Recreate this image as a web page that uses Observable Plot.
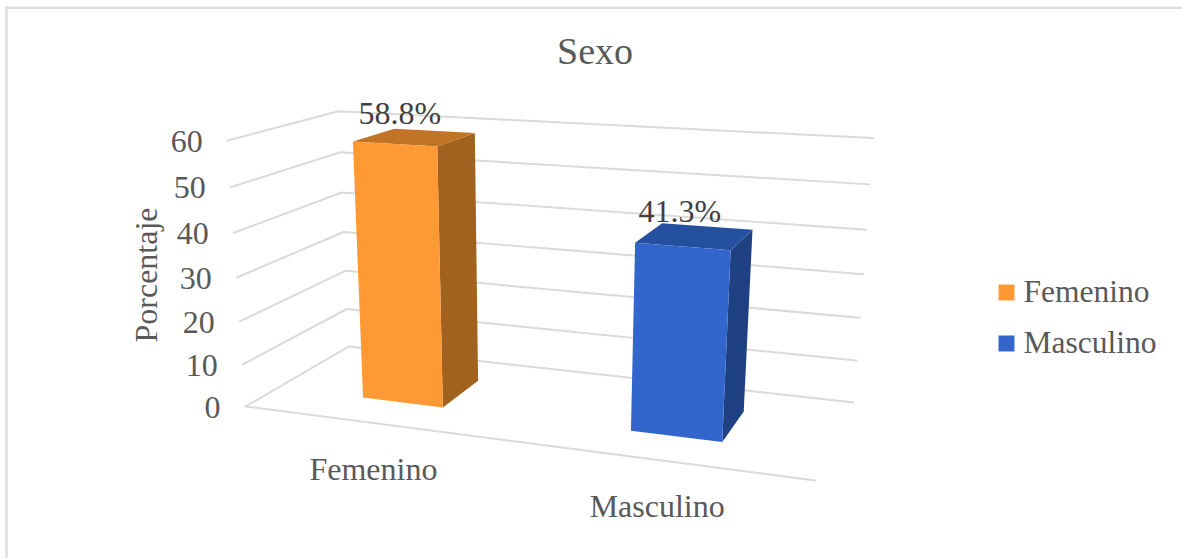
<!DOCTYPE html>
<html>
<head>
<meta charset="utf-8">
<script src="https://cdn.jsdelivr.net/npm/d3@7"></script>
<script src="https://cdn.jsdelivr.net/npm/@observablehq/plot@0.6"></script>
<style>
  html, body { margin: 0; padding: 0; background: #fff; }
  svg { display: block; }
</style>
</head>
<body>
<div id="chart"></div>
<script>
const chartTitle = "Sexo";
const yAxisTitle = "Porcentaje";
const categories = ["Femenino", "Masculino"];
const percentages = [58.8, 41.3];
const frontColors = ["#FF9933", "#3366CC"];
const topColors = ["#C27426", "#25509F"];
const sideColors = ["#A1621F", "#1F4082"];
const yTicks = [0, 10, 20, 30, 40, 50, 60];
const yMax = 60;

// Perspective camera of the 3D scene: u along categories, w into depth, v up (all 0..1).
const camX = [462.5, 151.06, -31, 245];
const camY = [10.8, -12.2, -274.1, 406];
const camW = [-0.1316, 0.1381, -0.058, 1];
const dot3 = (c, u, w, v) => c[0] * u + c[1] * w + c[2] * v + c[3];
const project = (u, w, value) => {
  const v = value / yMax, d = dot3(camW, u, w, v);
  return {x: dot3(camX, u, w, v) / d, y: dot3(camY, u, w, v) / d};
};

const barHalfWidth = 0.078, depthNear = 0.295, depthFar = 0.708;
const center = (i) => (i + 0.5) / categories.length;

// Gridlines on the side wall and the back wall, plus the front floor edge
const grid = [];
yTicks.forEach((t) => {
  [[0, 0], [0, 1], [1, 1]].forEach(([u, w]) => grid.push({key: "g" + t, ...project(u, w, t)}));
});
[[0, 0], [1, 0]].forEach(([u, w]) => grid.push({key: "floor", ...project(u, w, 0)}));

// Faces of each bar
const faces = [];
categories.forEach((c, i) => {
  const u0 = center(i) - barHalfWidth, u1 = center(i) + barHalfWidth, h = percentages[i];
  const add = (name, fill, corners) => corners.forEach(([u, w, v]) =>
    faces.push({key: c + name, fill, ...project(u, w, v)}));
  add("side", sideColors[i], [[u1, depthNear, 0], [u1, depthFar, 0], [u1, depthFar, h], [u1, depthNear, h]]);
  add("top", topColors[i], [[u0, depthNear, h], [u1, depthNear, h], [u1, depthFar, h], [u0, depthFar, h]]);
  add("front", frontColors[i], [[u0, depthNear, 0], [u1, depthNear, 0], [u1, depthNear, h], [u0, depthNear, h]]);
});

const tickLabels = yTicks.map((t) => ({label: String(t), ...project(0, 0, t)}));
const catLabels = categories.map((c, i) => ({label: c, ...project(center(i), 0, 0)}));
const valueLabels = percentages.map((p, i) => ({label: p.toFixed(1) + "%", ...project(center(i), 0.5, p)}));
const legend = categories.map((c, i) => ({label: c, fill: frontColors[i], row: i}));

const serif = "Liberation Serif";
const W = 1182, H = 558;
const legendX = 1006, legendY = (row) => 292 + row * 51;

const chart = Plot.plot({
  width: W, height: H,
  margin: 0,
  x: {domain: [0, W], range: [0, W], axis: null},
  y: {domain: [0, H], range: [0, H], axis: null},
  style: {background: "#fff", fontFamily: serif},
  marks: [
    Plot.ruleY([7.3], {x1: 5, x2: W, stroke: "#DEDEDE", strokeWidth: 2.6}),
    Plot.ruleX([6], {y1: 6, y2: H, stroke: "#DEDEDE", strokeWidth: 2.4}),
    Plot.line(grid, {x: "x", y: "y", z: "key", stroke: "#DADADA", strokeWidth: 2}),
    Plot.line(faces, {x: "x", y: "y", z: "key", fill: "fill", stroke: "none"}),
    Plot.text([chartTitle], {x: 594.5, y: 51, text: (d) => d, fontSize: 38, fill: "#595959"}),
    Plot.text([yAxisTitle], {x: 146.5, y: 274.5, text: (d) => d, rotate: -90, fontSize: 32, fill: "#595959"}),
    Plot.text(tickLabels, {x: "x", y: "y", text: "label", dx: -25, dy: 1, textAnchor: "end", fontSize: 32, fill: "#595959"}),
    Plot.text(catLabels, {x: "x", y: "y", text: "label", dy: 47, fontSize: 32, fill: "#595959"}),
    Plot.text(valueLabels, {x: "x", y: "y", text: "label", dx: -15, dy: -24, fontSize: 32, fill: "#404040"}),
    Plot.dot(legend, {x: legendX, y: (d) => legendY(d.row), symbol: "square", r: 9, fill: "fill", stroke: "none"}),
    Plot.text(legend, {x: legendX + 17, y: (d) => legendY(d.row) - 0.5, text: "label", textAnchor: "start", fontSize: 31.5, fill: "#595959"})
  ]
});
document.getElementById("chart").appendChild(chart);
</script>
</body>
</html>
